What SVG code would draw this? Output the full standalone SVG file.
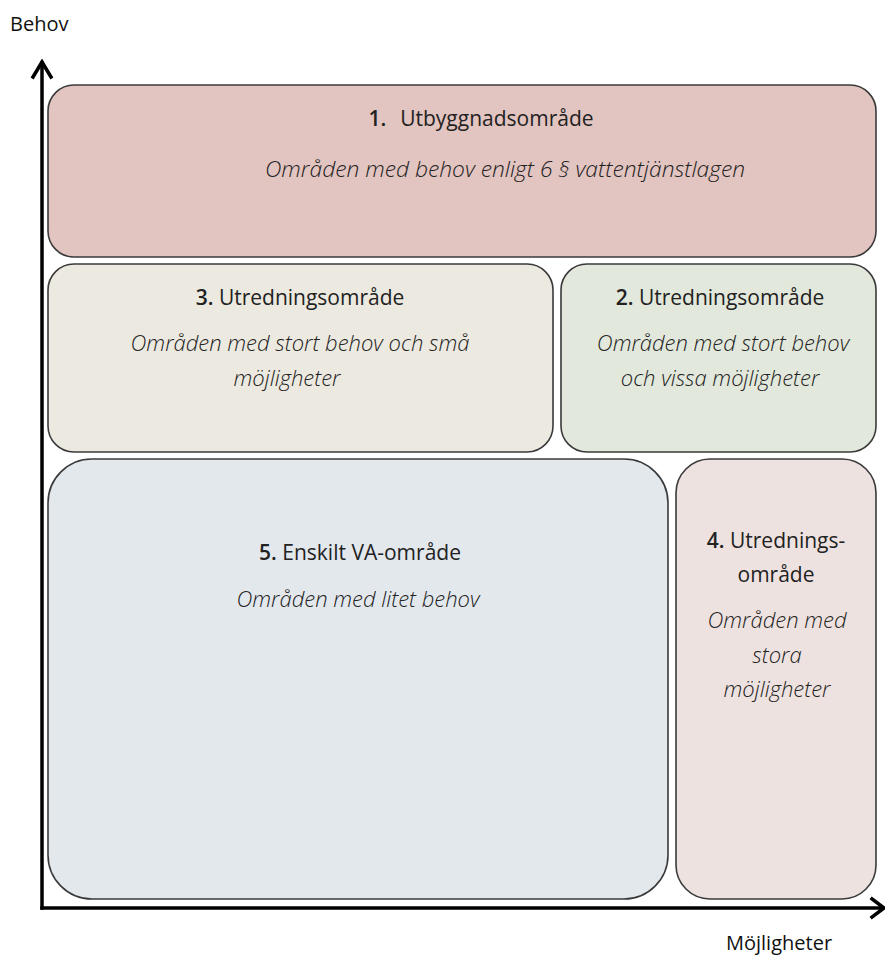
<svg xmlns="http://www.w3.org/2000/svg" width="885" height="957" viewBox="0 0 885 957">
<style>
.box{stroke:#3a3a3a;stroke-width:1.6}
.t{font-family:"Open Sans","Noto Sans",sans-serif;font-size:21px;fill:#222;text-anchor:middle}
.i{font-style:italic;font-size:22px;font-weight:300}
.b{font-weight:600}
.ax{font-family:"Open Sans","Noto Sans",sans-serif;font-size:20px;fill:#111}
.axis{stroke:#000;stroke-width:3.5;fill:none;stroke-linecap:square}
</style>
<rect width="885" height="957" fill="#fff"/>
<g id="axes">
<path class="axis" d="M42,908 V63"/>
<path class="axis" d="M33,77 L42,62 L51,77" stroke-linecap="butt" stroke-linejoin="miter"/>
<path class="axis" d="M42,908 H882"/>
<path class="axis" d="M872,899 L884,908 L872,917" stroke-linecap="butt" stroke-linejoin="miter"/>
</g>
<g id="label-behov"><text class="ax" x="10" y="31">Behov</text></g>
<g id="label-mojligheter"><text class="ax" x="726" y="950">Möjligheter</text></g>
<g id="node1">
<rect class="box" x="48" y="85" width="828" height="172" rx="26" fill="#e2c4c0"/>
<text class="t" x="481" y="126"><tspan class="b">1.</tspan><tspan dx="14">Utbyggnadsområde</tspan></text>
<text class="t i" x="505" y="177" style="font-size:22.8px">Områden med behov enligt 6 § vattentjänstlagen</text>
</g>
<g id="node3">
<rect class="box" x="48" y="264" width="505" height="188" rx="26" fill="#ece9e0"/>
<text class="t" x="300" y="305"><tspan class="b">3.</tspan> Utredningsområde</text>
<text class="t i" x="300" y="351">Områden med stort behov och små</text>
<text class="t i" x="287" y="386">möjligheter</text>
</g>
<g id="node2">
<rect class="box" x="561" y="264" width="315" height="188" rx="26" fill="#e2e8dc"/>
<text class="t" x="720" y="305"><tspan class="b">2.</tspan> Utredningsområde</text>
<text class="t i" x="723" y="351">Områden med stort behov</text>
<text class="t i" x="720" y="386">och vissa möjligheter</text>
</g>
<g id="node5">
<rect class="box" x="48" y="459" width="620" height="440" rx="44" fill="#e3e8ed"/>
<text class="t" x="360" y="560"><tspan class="b">5.</tspan> Enskilt VA-område</text>
<text class="t i" x="358" y="607">Områden med litet behov</text>
</g>
<g id="node4">
<rect class="box" x="676" y="459" width="200" height="440" rx="34" fill="#eee2e0"/>
<text class="t" x="776" y="548"><tspan class="b">4.</tspan> Utrednings-</text>
<text class="t" x="776" y="582">område</text>
<text class="t i" x="777" y="628">Områden med</text>
<text class="t i" x="777" y="663">stora</text>
<text class="t i" x="777" y="697">möjligheter</text>
</g>
</svg>
